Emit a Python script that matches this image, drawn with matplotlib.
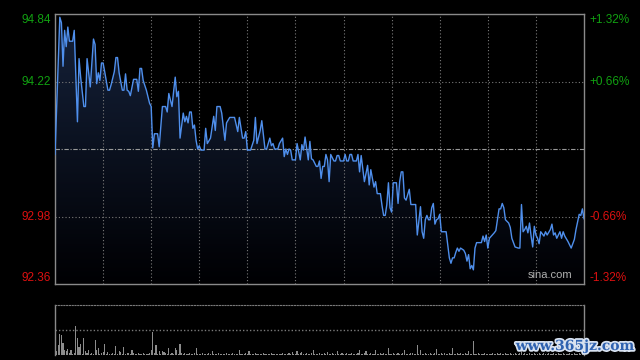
import numpy as np
import matplotlib
matplotlib.use("Agg")
import matplotlib.pyplot as plt
import matplotlib.patheffects as pe
from matplotlib.patches import Polygon
from matplotlib.transforms import offset_copy

plt.rcParams['font.family'] = ['Liberation Sans', 'DejaVu Sans']

# ---- data ----
prev_close = 93.60
price_ticks = [92.36, 92.98, 93.60, 94.22, 94.84]
left_labels = ["92.36", "92.98", "", "94.22", "94.84"]
right_labels = ["-1.32%", "-0.66%", "", "+0.66%", "+1.32%"]

minutes = [0, 3, 4, 5, 6, 7, 8, 9, 11, 12, 14, 15, 16, 18, 19, 20, 22, 24, 25, 26,
           27, 28, 29, 30, 31, 33, 34, 35, 37, 38, 39, 40, 42, 43, 44, 45, 46, 47, 49, 51,
           52, 53, 54, 55, 57, 59, 60, 61, 62, 64, 65, 67, 69, 70, 71, 73, 74, 75, 76, 77,
           78, 80, 81, 82, 83, 84, 85, 86, 87, 88, 89, 90, 91, 93, 94, 95, 97, 99, 100, 101,
           103, 104, 106, 107, 109, 112, 114, 115, 117, 118, 119, 120, 122, 124, 125, 126, 128, 129, 131, 132,
           134, 135, 136, 137, 139, 140, 142, 143, 144, 145, 146, 147, 148, 150, 151, 153, 154, 155, 156, 158,
           159, 160, 161, 163, 164, 165, 166, 167, 168, 169, 170, 171, 172, 174, 175, 176, 177, 178, 180, 181,
           182, 183, 184, 185, 186, 188, 189, 190, 191, 193, 195, 196, 197, 199, 200, 201, 203, 204, 205, 206,
           207, 208, 209, 210, 211, 213, 214, 215, 216, 217, 218, 219, 221, 222, 225, 226, 228, 229, 230, 231,
           232, 233, 234, 235, 236, 237, 238, 239, 240, 241, 244, 246, 247, 248, 249, 250, 251, 252, 253, 255,
           256, 257, 258, 259, 260, 261, 262, 263, 266, 267, 268, 269, 270, 271, 274, 275, 276, 277, 278, 279,
           280, 281, 283, 284, 285, 287, 289, 290, 291, 292, 293, 294, 295, 296, 297, 298, 299, 300, 301, 302,
           303, 305, 306, 307, 309, 310, 311, 312, 313, 315, 316, 317, 318, 320, 322, 324, 325, 327, 328, 329,
           330]
prices = [93.55, 94.81, 94.76, 94.36, 94.69, 94.54, 94.72, 94.59, 94.59, 94.69, 93.85, 94.43, 94.26, 93.99, 93.99, 94.43, 94.17, 94.61, 94.56, 94.20,
          94.30, 94.23, 94.39, 94.39, 94.31, 94.14, 94.14, 94.19, 94.31, 94.44, 94.44, 94.30, 94.14, 94.14, 94.29, 94.14, 94.13, 94.09, 94.24, 94.24,
          94.13, 94.34, 94.34, 94.23, 94.14, 94.02, 93.99, 93.61, 93.74, 93.74, 93.62, 93.99, 93.99, 93.94, 94.11, 93.99, 94.13, 94.26, 94.08, 94.13,
          93.70, 93.93, 93.85, 93.90, 93.84, 93.94, 93.94, 93.79, 93.82, 93.68, 93.60, 93.63, 93.59, 93.59, 93.79, 93.65, 93.70, 93.90, 93.77, 93.99,
          93.99, 93.93, 93.68, 93.84, 93.89, 93.89, 93.76, 93.89, 93.70, 93.70, 93.76, 93.59, 93.59, 93.68, 93.89, 93.65, 93.77, 93.86, 93.60, 93.60,
          93.70, 93.63, 93.65, 93.60, 93.60, 93.65, 93.70, 93.53, 93.60, 93.55, 93.60, 93.59, 93.50, 93.50, 93.65, 93.50, 93.64, 93.59, 93.71, 93.50,
          93.67, 93.51, 93.50, 93.44, 93.44, 93.49, 93.33, 93.44, 93.44, 93.55, 93.50, 93.30, 93.55, 93.49, 93.49, 93.54, 93.54, 93.49, 93.49, 93.55,
          93.49, 93.49, 93.55, 93.55, 93.49, 93.49, 93.55, 93.39, 93.54, 93.30, 93.45, 93.27, 93.41, 93.25, 93.30, 93.19, 93.19, 93.08, 92.99, 92.99,
          93.09, 93.29, 93.06, 93.02, 93.29, 93.29, 93.10, 93.30, 93.39, 93.39, 93.15, 93.13, 93.23, 93.09, 93.09, 92.81, 93.07, 92.84, 92.78, 92.95,
          92.99, 92.95, 92.95, 93.06, 93.10, 92.91, 92.95, 92.96, 93.00, 92.84, 92.84, 92.60, 92.55, 92.60, 92.60, 92.65, 92.69, 92.66, 92.69, 92.67,
          92.64, 92.57, 92.63, 92.50, 92.53, 92.49, 92.69, 92.74, 92.74, 92.80, 92.75, 92.81, 92.69, 92.78, 92.83, 92.85, 92.95, 93.05, 93.05, 93.10,
          93.06, 92.95, 92.92, 92.88, 92.78, 92.70, 92.69, 92.69, 93.09, 92.84, 92.86, 92.89, 92.83, 92.92, 92.80, 92.70, 92.89, 92.81, 92.78, 92.73,
          92.84, 92.80, 92.84, 92.81, 92.86, 92.91, 92.81, 92.83, 92.78, 92.84, 92.78, 92.84, 92.80, 92.75, 92.69, 92.77, 92.86, 93.00, 92.99, 93.05,
          92.96]

volumes = [4, 4, 10, 21, 20, 12, 5, 4, 6, 2, 5, 1, 2, 29, 17, 8, 11, 1, 17, 4,
           2, 5, 1, 2, 1, 15, 5, 7, 1, 2, 3, 11, 1, 3, 1, 1, 2, 1, 9, 1,
           4, 3, 1, 8, 1, 2, 2, 1, 5, 2, 1, 1, 2, 1, 1, 2, 1, 1, 1, 2,
           5, 23, 2, 10, 1, 4, 1, 4, 3, 2, 1, 7, 1, 2, 1, 7, 5, 1, 11, 2,
           1, 2, 1, 1, 2, 1, 1, 2, 7, 1, 1, 1, 2, 1, 1, 1, 2, 1, 4, 1,
           1, 1, 2, 1, 1, 1, 1, 2, 1, 1, 1, 2, 1, 1, 1, 5, 1, 1, 1, 2,
           1, 4, 1, 1, 1, 2, 1, 1, 1, 1, 2, 1, 1, 1, 1, 2, 1, 1, 1, 1,
           1, 1, 2, 1, 1, 1, 2, 1, 3, 1, 1, 4, 1, 2, 3, 1, 1, 2, 1, 1,
           2, 5, 1, 1, 1, 2, 1, 1, 2, 1, 3, 1, 1, 2, 1, 1, 4, 1, 1, 2,
           1, 1, 2, 1, 1, 2, 1, 1, 1, 2, 5, 1, 1, 2, 4, 1, 1, 2, 1, 1,
           5, 1, 1, 2, 1, 2, 1, 1, 7, 1, 1, 2, 1, 1, 2, 1, 1, 2, 5, 1,
           1, 1, 2, 2, 1, 1, 10, 1, 5, 1, 1, 2, 1, 1, 2, 1, 1, 2, 6, 1,
           1, 2, 1, 2, 1, 1, 2, 1, 7, 1, 1, 2, 1, 2, 1, 1, 2, 1, 4, 1,
           1, 14, 1, 1, 2, 1, 1, 1, 2, 1, 1, 1, 1, 2, 1, 1, 2, 1, 2, 1,
           1, 2, 1, 1, 2, 1, 1, 2, 1, 1, 2, 12, 1, 2, 1, 1, 2, 1, 1, 2,
           1, 1, 2, 1, 1, 2, 1, 1, 2, 1, 1, 2, 1, 1, 2, 1, 1, 2, 1, 1,
           1, 2, 1, 1, 2, 1, 1, 2, 1, 1, 2]
vol_minutes = list(range(len(volumes)))
vgrid_minutes = [30, 60, 90, 120, 150, 180, 210, 240, 270, 300]

# ---- styles ----
BG = "black"
GRID = "#7a7a7a"
BORDER = "#8a8a8a"
LINE = "#4f8fec"
GREEN = "#11a011"
RED = "#dd1010"

fig = plt.figure(figsize=(6.4, 3.6), dpi=100, facecolor=BG)
ax = fig.add_axes([55/640, 1-284/360, 529/640, 270/360])
ax.set_facecolor(BG)
ymin, ymax = price_ticks[0], price_ticks[-1]
ax.set_xlim(0, 330)
ax.set_ylim(ymin, ymax)

# gradient fill under the line
x = np.array(minutes, dtype=float)
y = np.array(prices)
verts = np.column_stack([np.r_[x[0], x, x[-1]], np.r_[ymin, y, ymin]])
poly = Polygon(verts, closed=True, facecolor='none', edgecolor='none')
ax.add_patch(poly)
grad = np.linspace(1, 0, 256).reshape(-1, 1)
top_c = np.array([0.085, 0.135, 0.235])
bot_c = np.array([0.0, 0.0, 0.01])
img = (bot_c + (top_c - bot_c) * grad[..., None]).reshape(256, 1, 3)
im = ax.imshow(img, extent=[0, 330, ymin, ymax], aspect='auto', origin='upper', zorder=1)
im.set_clip_path(poly)

# grid
for m in vgrid_minutes:
    ax.axvline(m, color=GRID, lw=0.8, ls=(0, (1, 2)), zorder=2)
for p in [price_ticks[1], price_ticks[3]]:
    ax.axhline(p, color=GRID, lw=0.8, ls=(0, (1, 2)), zorder=2)
ax.axhline(prev_close, color="#9a9a9a", lw=0.8, ls=(0, (4, 1.5, 1, 1.5)), zorder=2)

ax.plot(x, y, color=LINE, lw=1.0, zorder=3)

for s in ax.spines.values():
    s.set_color(BORDER)
    s.set_linewidth(1.0)
ax.set_xticks([])
ax.set_yticks([])

# labels (top/bottom labels are kept inside the plot height)
ytr = ax.get_yaxis_transform()
for p, lab, rl in zip(price_ticks, left_labels, right_labels):
    if not lab:
        continue
    col = GREEN if p > prev_close else RED
    dy = 0
    if p == ymax:
        dy = -6
    elif p == ymin:
        dy = 6
    tr = offset_copy(ytr, fig=fig, x=0, y=dy, units='dots')
    ax.text(-0.008, p, lab, transform=tr, ha='right', va='center',
            color=col, fontsize=8.5)
    ax.text(1.01, p, rl, transform=tr, ha='left', va='center',
            color=col, fontsize=8.5)

ax.text(0.978, 0.015, "sina.com", transform=ax.transAxes, ha='right', va='bottom',
        color="#b0b0b0", fontsize=8, zorder=4)

# volume panel
vax = fig.add_axes([55/640, 1-355/360, 529/640, 50/360])
vax.set_facecolor(BG)
vax.set_xlim(0, 330)
vax.set_ylim(0, 50)
vax.bar(vol_minutes, volumes, width=0.7, color="#8c8c8c", zorder=2)
vax.axhline(25, color=GRID, lw=1.0, ls=(0, (1, 1.5)), zorder=1)
for k in ['left', 'right']:
    vax.spines[k].set_color(BORDER)
    vax.spines[k].set_linewidth(1.0)
vax.spines['top'].set_color(GRID)
vax.spines['top'].set_linestyle((0, (1, 1.5)))
vax.spines['bottom'].set_visible(False)
vax.set_xticks([])
vax.set_yticks([])

fig.text(575/640, 1-346/360, "www.365jz.com", ha='center', va='center', color="#2f62b0",
         fontsize=10, fontweight='bold', family=['DejaVu Serif'],
         path_effects=[pe.withStroke(linewidth=2.5, foreground="#d8e2f0")])

fig.savefig("out.png", dpi=100, facecolor=BG)
